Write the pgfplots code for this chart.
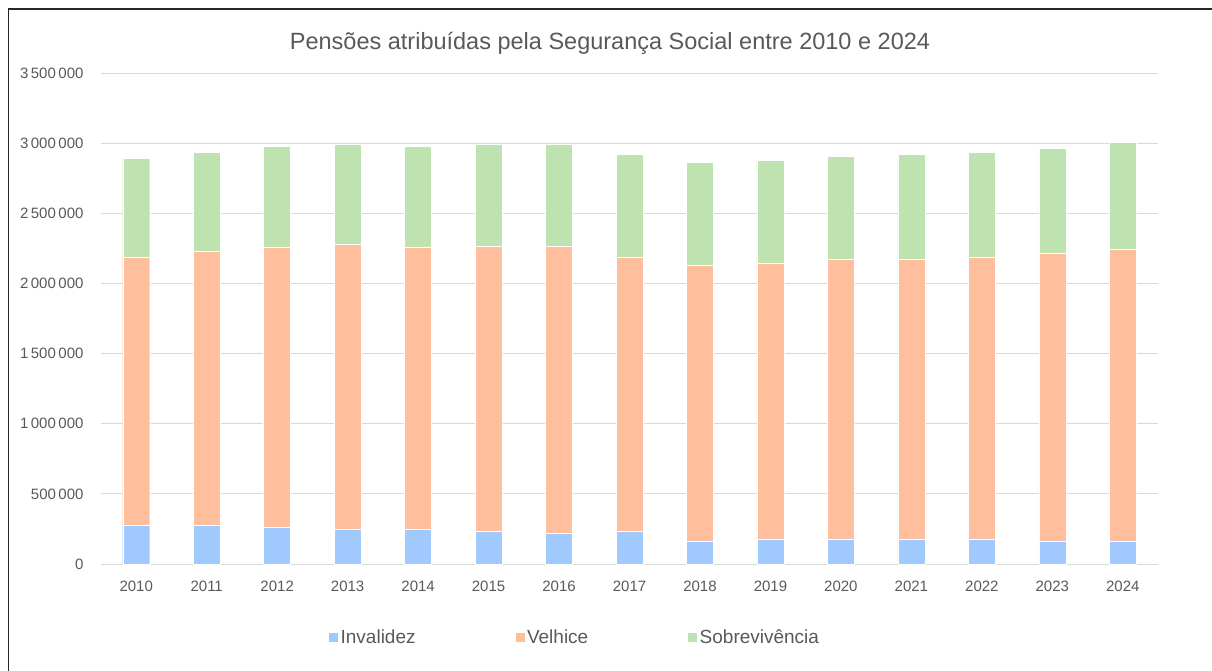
\documentclass[border=0pt]{standalone}
\usepackage{pgfplots}
\pgfplotsset{compat=1.18}
\usepackage{pgfplotstable}
\usepackage{fontspec}
\setmainfont{Liberation Sans}
\definecolor{cinv}{HTML}{A0CAFE}
\definecolor{cvel}{HTML}{FFBE9C}
\definecolor{csob}{HTML}{BEE2B0}
\definecolor{txt}{HTML}{595959}
\definecolor{grd}{HTML}{D9D9D9}
\pgfplotstableread{
x year inv vel sob
0 2010 276000 1910000 705000
1 2011 276000 1951000 707000
2 2012 262000 1993000 722000
3 2013 248000 2033000 710000
4 2014 248000 2007000 722000
5 2015 234000 2033000 724000
6 2016 219000 2048000 724000
7 2017 234000 1952000 734000
8 2018 165000 1964000 736000
9 2019 179000 1965000 733000
10 2020 179000 1993000 734000
11 2021 179000 1993000 748000
12 2022 179000 2007000 748000
13 2023 165000 2048000 750000
14 2024 165000 2076000 764000
}\data
\begin{document}
\begin{tikzpicture}
\useasboundingbox (0pt,0pt) rectangle (1212pt,670pt);
\draw[black!85, line width=1.3pt] (8.5pt,-2pt) -- (8.5pt,661pt) -- (1214pt,661pt);
\node[text=txt, font=\fontsize{23.5}{27}\selectfont] at (610pt,627pt) {Pensões atribuídas pela Segurança Social entre 2010 e 2024};
\begin{axis}[
  at={(101pt,106pt)}, anchor=south west,
  scale only axis, width=1057pt, height=491pt,
  ybar stacked, bar width=27pt,
  xmin=-0.5, xmax=14.5, ymin=0, ymax=3500000,
  xtick=data,
  xticklabels={2010,2011,2012,2013,2014,2015,2016,2017,2018,2019,2020,2021,2022,2023,2024},
  ytick={0,500000,1000000,1500000,2000000,2500000,3000000,3500000},
  yticklabels={0,500\,000,1\,000\,000,1\,500\,000,2\,000\,000,2\,500\,000,3\,000\,000,3\,500\,000},
  scaled y ticks=false,
  ymajorgrids, grid style={grd, line width=0.9pt},
  axis x line*=bottom, axis y line*=left,
  x axis line style={grd, line width=0.9pt, -},
  y axis line style={draw=none},
  major tick length=0pt,
  tick label style={text=txt, font=\fontsize{15}{17}\selectfont},
  xticklabel style={yshift=-13pt},
  yticklabel style={anchor=east, xshift=-14pt},
  legend style={at={(axis description cs:0.2148,-0.1487)}, anchor=west, draw=none, fill=none, inner sep=0pt,
    font=\fontsize{19}{22}\selectfont, text=txt, legend columns=3,
    /tikz/every even column/.append style={column sep=97pt}},
  legend image code/.code={\fill[#1] (0pt,-5pt) rectangle (10pt,5pt);},
  every axis plot/.append style={draw=white, line width=0.4pt},
]
\addplot[fill=cinv] table[x=x, y=inv] {\data};
\addplot[fill=cvel] table[x=x, y=vel] {\data};
\addplot[fill=csob] table[x=x, y=sob] {\data};
\legend{Invalidez, Velhice, Sobrevivência}
\end{axis}
\end{tikzpicture}
\end{document}
